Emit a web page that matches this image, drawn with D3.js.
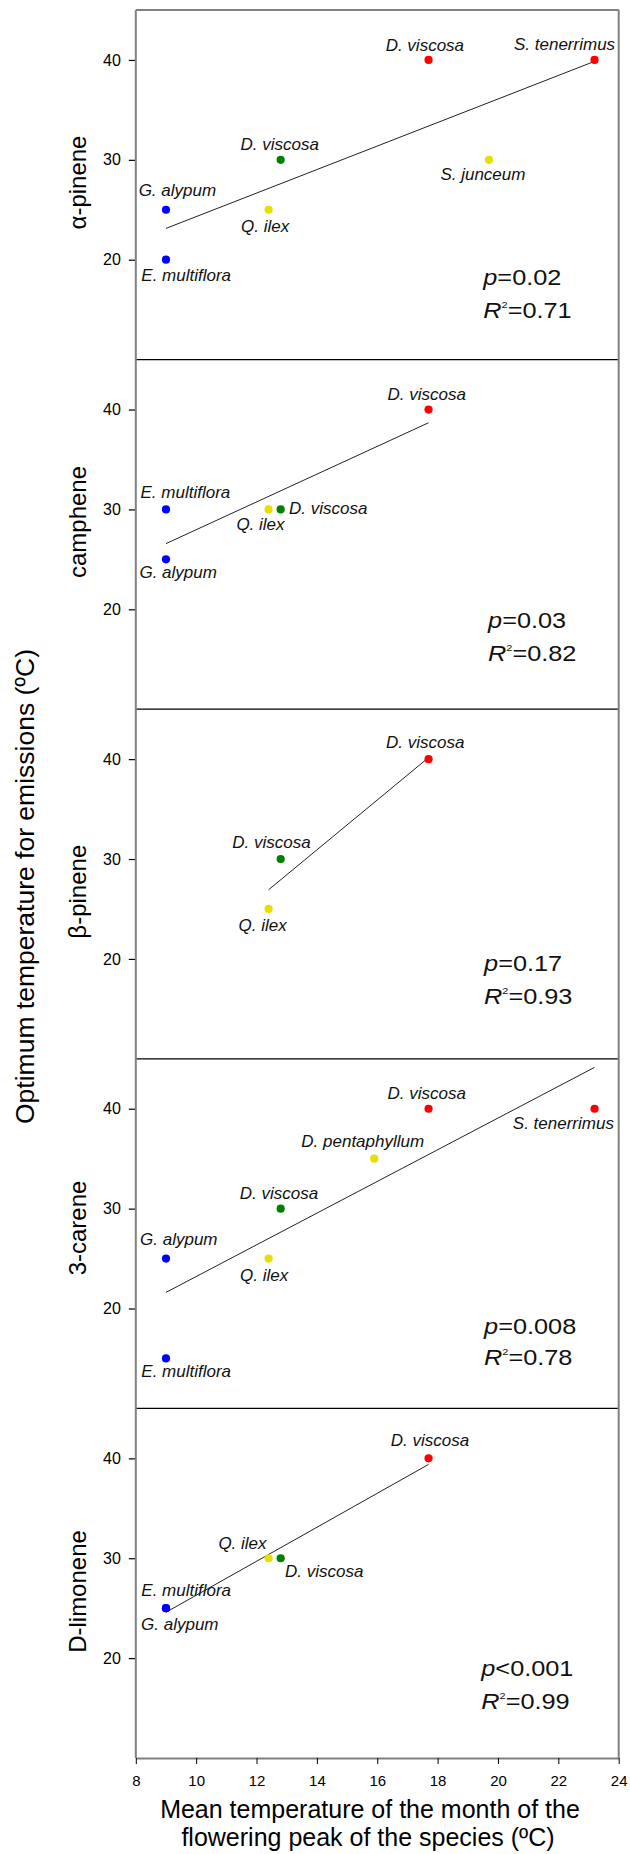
<!DOCTYPE html>
<html><head><meta charset="utf-8">
<script src="https://cdn.jsdelivr.net/npm/d3@7"></script>
<style>
body{margin:0;background:#fff;}
text{font-family:"Liberation Sans",Arial,sans-serif;}
</style></head>
<body><svg id="chart" width="630" height="1854"></svg>
<script>
// ---------- data ----------
const panelNames = ["α-pinene","camphene","β-pinene","3-carene","D-limonene"];

const species1 = ["G. alypum","E. multiflora","Q. ilex","D. viscosa","D. viscosa","S. junceum","S. tenerrimus"];
const xVals1   = [9, 9, 12.4, 12.8, 17.7, 19.7, 23.2];
const yVals1   = [25, 20, 25, 30, 40, 30, 40];
const groups1  = ["A","A","B","C","D","B","D"];

const species2 = ["E. multiflora","G. alypum","Q. ilex","D. viscosa","D. viscosa"];
const xVals2   = [9, 9, 12.4, 12.8, 17.7];
const yVals2   = [30, 25, 30, 30, 40];
const groups2  = ["A","A","B","C","D"];

const species3 = ["D. viscosa","Q. ilex","D. viscosa"];
const xVals3   = [12.8, 12.4, 17.7];
const yVals3   = [30, 25, 40];
const groups3  = ["C","B","D"];

const species4 = ["G. alypum","E. multiflora","Q. ilex","D. viscosa","D. pentaphyllum","D. viscosa","S. tenerrimus"];
const xVals4   = [9, 9, 12.4, 12.8, 15.9, 17.7, 23.2];
const yVals4   = [25, 15, 25, 30, 35, 40, 40];
const groups4  = ["A","A","B","C","B","D","D"];

const species5 = ["E. multiflora","G. alypum","Q. ilex","D. viscosa","D. viscosa"];
const xVals5   = [9, 9, 12.4, 12.8, 17.7];
const yVals5   = [25, 25, 30, 30, 40];
const groups5  = ["A","A","B","C","D"];

const pTexts  = ["=0.02","=0.03","=0.17","=0.008","<0.001"];
const r2Texts = ["=0.71","=0.82","=0.93","=0.78","=0.99"];

const xTicks = [8,10,12,14,16,18,20,22,24];
const yTicks = [20,30,40];
const xTitle = ["Mean temperature of the month of the","flowering peak of the species (ºC)"];
const yTitle = "Optimum temperature for emissions (ºC)";

// ---------- layout / style ----------
const groupColor = {A:"#0000ff", B:"#e6e000", C:"#008000", D:"#ff0000"};
// label offsets [dx, dy(baseline), anchor] per point
const labelPos = [
  [[11.4,-13.6,"middle"],[20.2,21,"middle"],[-3.4,22,"middle"],[-1,-10,"middle"],[-3.7,-9,"middle"],[-6,20,"middle"],[-30,-10,"middle"]],
  [[19.4,-11.6,"middle"],[12.2,19,"middle"],[-8.1,20.7,"middle"],[8.4,4.7,"start"],[-1.9,-10,"middle"]],
  [[-9.1,-10.7,"middle"],[-6,21.7,"middle"],[-3.3,-10.7,"middle"]],
  [[12.8,-13.3,"middle"],[20.2,18.4,"middle"],[-4.4,22.4,"middle"],[-1.7,-10,"middle"],[-11.5,-11.6,"middle"],[-1.9,-9.3,"middle"],[-31.2,20,"middle"]],
  [[20.2,-12,"middle"],[13.8,22,"middle"],[-26.1,-9,"middle"],[4.4,18.7,"start"],[1.5,-12.3,"middle"]]
];
const statX = [483.3,488.1,484.1,484.1,481.3];
const statPY = [274.5,268.8,261.7,274.8,268];
const statRY = [307.8,301,294.3,306.5,300.3];
const nameCY = [172.5,162.4,182.5,169.2,183.1];

const L = 135.8, R = 618.7, TOP = 10, PH = 349.6;

const panels = [
  {sp:species1,x:xVals1,y:yVals1,g:groups1},
  {sp:species2,x:xVals2,y:yVals2,g:groups2},
  {sp:species3,x:xVals3,y:yVals3,g:groups3},
  {sp:species4,x:xVals4,y:yVals4,g:groups4},
  {sp:species5,x:xVals5,y:yVals5,g:groups5}
];

const svg = d3.select("#chart");
const x = d3.scaleLinear().domain([8,24]).range([L,R]);

function fit(xs, ys){
  const n = xs.length, mx = d3.mean(xs), my = d3.mean(ys);
  let sxy=0, sxx=0;
  for(let i=0;i<n;i++){ sxy += (xs[i]-mx)*(ys[i]-my); sxx += (xs[i]-mx)**2; }
  const b = sxy/sxx, a = my - b*mx;
  return v => a + b*v;
}

panels.forEach((p,i)=>{
  const top = TOP + i*PH;
  const y = d3.scaleLinear().domain([10,45]).range([top+PH, top]);
  const g = svg.append("g");

  // y axis
  const ax = g.append("g").attr("transform",`translate(${L},0)`)
    .call(d3.axisLeft(y).tickValues(yTicks).tickSize(7).tickPadding(8));
  ax.select(".domain").remove();
  ax.selectAll("line").attr("stroke","#000").attr("stroke-width",1.2);
  ax.selectAll("text").attr("font-size",16).attr("fill","#000")
    .style("font-family","'Liberation Sans',Arial,sans-serif");

  // panel name
  g.append("text")
    .attr("transform",`translate(86,${top+nameCY[i]}) rotate(-90)`)
    .attr("text-anchor","middle").attr("font-size",24).attr("fill","#000")
    .text(panelNames[i]);

  // regression line
  const f = fit(p.x, p.y);
  const x0 = d3.min(p.x), x1 = d3.max(p.x);
  g.append("line")
    .attr("x1",x(x0)).attr("y1",y(f(x0)))
    .attr("x2",x(x1)).attr("y2",y(f(x1)))
    .attr("stroke","#222").attr("stroke-width",1);

  // points
  p.x.forEach((xv,j)=>{
    g.append("circle").attr("cx",x(xv)).attr("cy",y(p.y[j])).attr("r",4.1)
      .attr("fill",groupColor[p.g[j]]);
  });
  // labels
  p.x.forEach((xv,j)=>{
    const lp = labelPos[i][j];
    g.append("text").attr("x",x(xv)+lp[0]).attr("y",y(p.y[j])+lp[1])
      .attr("text-anchor",lp[2]).attr("font-size",17).attr("font-style","italic")
      .attr("fill","#111").text(p.sp[j]);
  });

  // stats
  const t1 = g.append("text")
    .attr("transform",`translate(${statX[i]},${top+statPY[i]}) scale(1.15,1)`)
    .attr("font-size",22).attr("fill","#111");
  t1.append("tspan").attr("font-style","italic").text("p");
  t1.append("tspan").text(pTexts[i]);
  const t2 = g.append("text")
    .attr("transform",`translate(${statX[i]},${top+statRY[i]}) scale(1.15,1)`)
    .attr("font-size",22).attr("fill","#111");
  t2.append("tspan").attr("font-style","italic").text("R");
  t2.append("tspan").attr("font-size",9.5).attr("dy",-10).text("2");
  t2.append("tspan").attr("dy",10).text(r2Texts[i]);

  // separator / top line
  g.append("line").attr("x1",L).attr("x2",R).attr("y1",top).attr("y2",top)
    .attr("stroke", i===0 ? "#808080" : "#000").attr("stroke-width", i===0 ? 2 : 1.2);
});

// frame sides
svg.append("line").attr("x1",L).attr("x2",L).attr("y1",TOP).attr("y2",TOP+5*PH)
  .attr("stroke","#808080").attr("stroke-width",2);
svg.append("line").attr("x1",R).attr("x2",R).attr("y1",TOP).attr("y2",TOP+5*PH)
  .attr("stroke","#808080").attr("stroke-width",2);

// x axis
const bottom = TOP + 5*PH;
const xa = svg.append("g").attr("transform",`translate(0,${bottom})`)
  .call(d3.axisBottom(x).tickValues(xTicks).tickSize(6).tickSizeOuter(0).tickPadding(11));
xa.select(".domain").attr("stroke","#808080").attr("stroke-width",2);
xa.selectAll("line").attr("stroke","#000");
xa.selectAll("text").attr("font-size",15).attr("fill","#000")
  .style("font-family","'Liberation Sans',Arial,sans-serif");

// x title
svg.append("text").attr("x",370).attr("y",1818).attr("text-anchor","middle")
  .attr("font-size",25).attr("fill","#000").text(xTitle[0]);
svg.append("text").attr("x",368).attr("y",1846).attr("text-anchor","middle")
  .attr("font-size",25).attr("fill","#000").text(xTitle[1]);

// y title
svg.append("text").attr("transform","translate(33.5,886.5) rotate(-90)")
  .attr("text-anchor","middle").attr("font-size",26.5).attr("fill","#000").text(yTitle);
</script>
</body></html>
